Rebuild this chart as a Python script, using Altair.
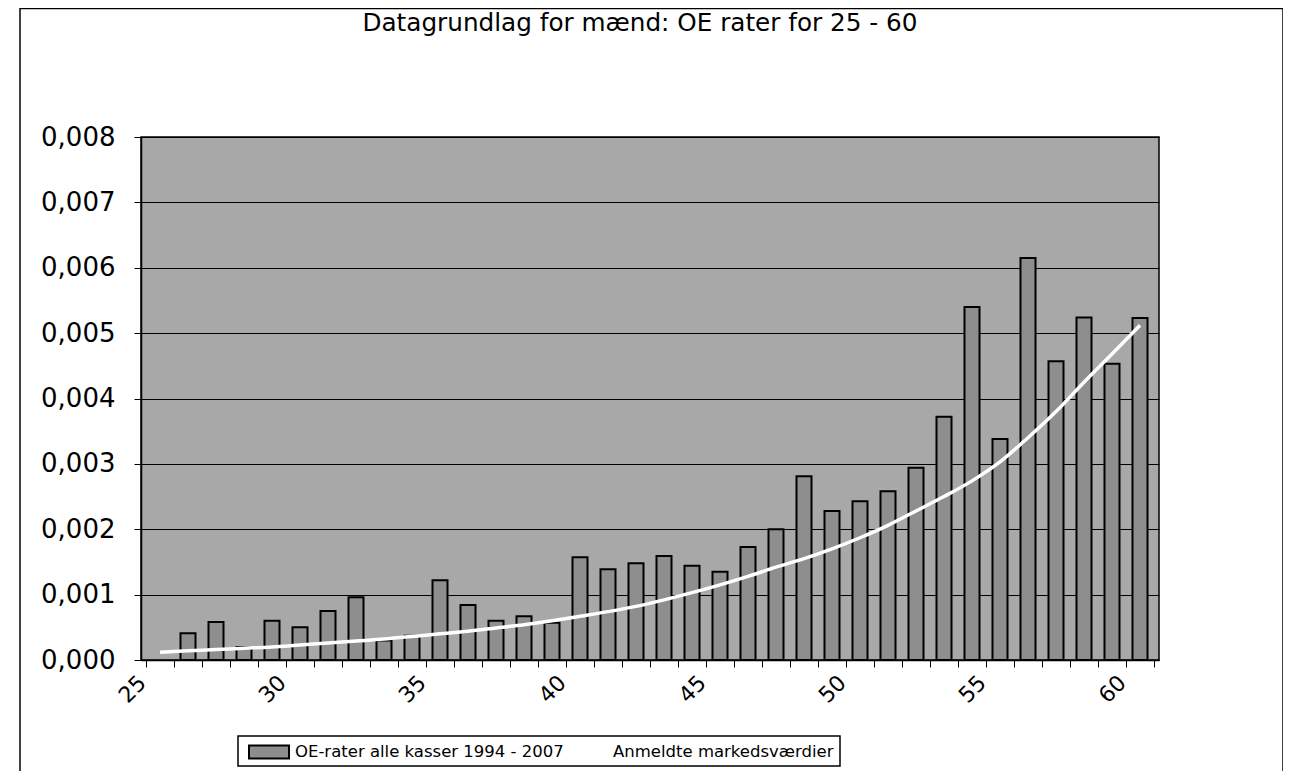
import altair as alt
import pandas as pd

# ---- data ----
ages = list(range(25, 61))
# OE-rater alle kasser 1994 - 2007 (age 25 has no bar)
oe_rates = [None, 0.00041, 0.00058, 0.00020, 0.00060, 0.00050, 0.00075, 0.00096,
            0.00030, 0.00037, 0.00122, 0.00084, 0.00060, 0.00067, 0.00057,
            0.00157, 0.00139, 0.00148, 0.00159, 0.00144, 0.00135, 0.00173,
            0.00200, 0.00281, 0.00228, 0.00243, 0.00258, 0.00294, 0.00372,
            0.00540, 0.00338, 0.00615, 0.00457, 0.00524, 0.00453, 0.00523]
# Anmeldte markedsværdier
market = [0.00012, 0.00014, 0.00016, 0.00018, 0.00020, 0.00023, 0.00026, 0.00029,
          0.00032, 0.00036, 0.00040, 0.00044, 0.00049, 0.00054, 0.00060, 0.00067,
          0.00074, 0.00082, 0.00092, 0.00103, 0.00115, 0.00128, 0.00142, 0.00155,
          0.00170, 0.00187, 0.00206, 0.00228, 0.00250, 0.00274, 0.00303, 0.00340,
          0.00380, 0.00425, 0.00468, 0.00512]
series_names = ["OE-rater alle kasser 1994 - 2007", "Anmeldte markedsværdier"]
title_text = "Datagrundlag for mænd: OE rater for 25 - 60"

bars_df = pd.DataFrame({"age": ages, "value": oe_rates, "series": series_names[0]}).dropna()
line_df = pd.DataFrame({"age": ages, "value": market, "series": series_names[1]})

FONT = "DejaVu Sans"
W, H = 1018, 523
BAR_GRAY = "#8e8e8e"
BG_GRAY = "#a8a8a8"

legend_bar = alt.Legend(
    title=None, orient="none", legendX=107, legendY=594, direction="horizontal",
    labelFont=FONT, labelFontSize=16.5, labelColor="black", labelLimit=0,
    symbolType="M-1,-0.32L1,-0.32L1,0.32L-1,0.32Z", symbolSize=1600,
    symbolStrokeColor="black", symbolStrokeWidth=2, symbolFillColor=BAR_GRAY,
    labelOffset=5, padding=0,
)
legend_line = alt.Legend(
    title=None, orient="none", legendX=425, legendY=594, direction="horizontal",
    labelFont=FONT, labelFontSize=16.5, labelColor="black", labelLimit=0,
    symbolType="stroke", symbolSize=1600, symbolStrokeWidth=2,
    symbolStrokeColor="#d4d4d4", symbolDash=[3, 1],
    labelOffset=5, padding=0,
)

x_scale = alt.Scale(domain=[25, 61], nice=False, zero=False)
y_scale = alt.Scale(domain=[0, 0.008], nice=False)

x_axis = alt.Axis(
    values=list(range(25, 62)), title=None, grid=False,
    labelExpr="datum.value % 5 == 0 && datum.value <= 60 ? datum.value : ''",
    labelAngle=-45, labelAlign="right", labelBaseline="middle", labelFont=FONT,
    labelFontSize=22, labelColor="black", labelPadding=12, labelOffset=-4,
    labelOverlap=False, labelBound=False, labelFlush=False,
    tickColor="black", tickSize=7, domainColor="black", domainWidth=1.5,
)
y_axis = alt.Axis(
    values=[i / 1000 for i in range(0, 9)], title=None,
    labelExpr="replace(format(datum.value, '.3f'), '.', ',')",
    labelFont=FONT, labelFontSize=26, labelColor="black", labelPadding=19,
    labelOverlap=False,
    tickColor="black", tickSize=7, domainColor="black", domainWidth=1.5,
    grid=True, gridColor="black", gridWidth=1, gridOpacity=1,
)

bars = alt.Chart(bars_df).transform_calculate(xc="datum.age + 0.5").mark_bar(
    width=15, stroke="black", strokeWidth=2
).encode(
    x=alt.X("xc:Q", scale=x_scale, axis=x_axis),
    y=alt.Y("value:Q", scale=y_scale, axis=y_axis),
    fill=alt.Fill("series:N", scale=alt.Scale(domain=[series_names[0]], range=[BAR_GRAY]),
                  legend=legend_bar),
)

line = alt.Chart(line_df).transform_calculate(xc="datum.age + 0.5").mark_line(
    strokeWidth=3.5, interpolate="monotone"
).encode(
    x=alt.X("xc:Q", scale=x_scale, axis=x_axis),
    y=alt.Y("value:Q", scale=y_scale, axis=y_axis),
    stroke=alt.Stroke("series:N", scale=alt.Scale(domain=[series_names[1]], range=["#ffffff"]),
                      legend=legend_line),
)

one = alt.Data(values=[{}])
frame_left = alt.Chart(one).mark_rule(color="black", strokeWidth=1.5).encode(
    x=alt.value(-121), y=alt.value(-129), y2=alt.value(650))
frame_right = alt.Chart(one).mark_rule(color="black", strokeWidth=1.5).encode(
    x=alt.value(1142), y=alt.value(-129), y2=alt.value(650))
frame_top = alt.Chart(one).mark_rule(color="black", strokeWidth=1.5).encode(
    x=alt.value(-121), x2=alt.value(1142), y=alt.value(-128.5))
legend_box = alt.Chart(one).mark_rect(fill="white", stroke="black", strokeWidth=1.5).encode(
    x=alt.value(97), x2=alt.value(699), y=alt.value(599), y2=alt.value(629))

chart = alt.layer(frame_left, frame_right, frame_top, legend_box, bars, line).properties(
    width=W, height=H,
    title=alt.TitleParams(title_text, font=FONT, fontSize=24.7, fontWeight="normal",
                          color="black", anchor="middle", offset=-28, dx=-10),
    autosize=alt.AutoSizeParams(type="none"),
    padding={"left": 133, "top": 129, "right": 124, "bottom": 111},
).resolve_scale(fill="independent", stroke="independent").configure(
    background="white",
    view=alt.ViewConfig(fill=BG_GRAY, stroke="black", strokeWidth=1.5),
    axis=alt.AxisConfig(labelOverlap=False),
)

chart.save("out.html", embed_options={"renderer": "svg", "actions": False})
